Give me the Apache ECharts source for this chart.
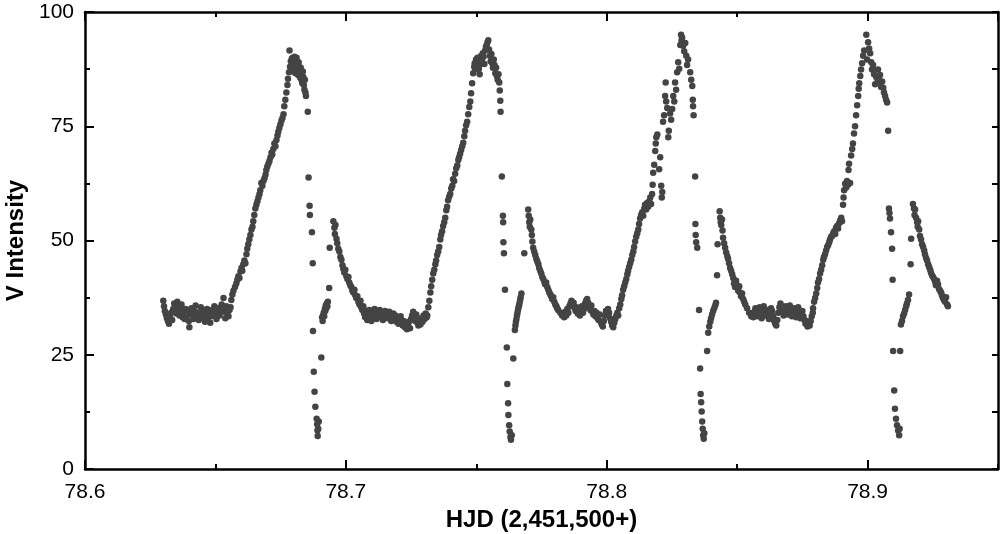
<!DOCTYPE html>
<html>
<head>
<meta charset="utf-8">
<script src="https://cdn.jsdelivr.net/npm/echarts@6/dist/echarts.min.js"></script>
<style>
  html, body { margin: 0; padding: 0; background: #fff; }
  #main { width: 1000px; height: 534px; }
</style>
</head>
<body>
<div id="main"></div>
<script>
// light curve points [HJD - 2,451,500, V intensity]
var cycle1 = [
    [78.6300,36.8],[78.6303,35.6],[78.6306,34.6],[78.6310,33.8],[78.6314,33.0],[78.6318,32.4],[78.6322,31.8],[78.6326,33.2],
    [78.6330,34.2],[78.6334,32.6],[78.6338,35.0],[78.6342,36.2],[78.6346,35.4],[78.6350,34.0],[78.6354,36.6],[78.6358,35.2],
    [78.6362,33.6],[78.6366,34.8],[78.6370,36.0],[78.6374,33.2],[78.6378,34.4],[78.6382,32.8],[78.6386,35.0],[78.6390,33.6],
    [78.6394,34.6],[78.6398,32.4],[78.6400,31.0],[78.6404,33.8],[78.6408,35.2],[78.6412,34.0],[78.6416,32.8],[78.6420,34.6],
    [78.6424,35.8],[78.6428,33.4],[78.6432,34.2],[78.6436,32.6],[78.6440,33.8],[78.6444,35.4],[78.6448,34.4],[78.6452,33.0],
    [78.6456,34.8],[78.6460,32.2],[78.6464,33.6],[78.6468,35.0],[78.6472,33.2],[78.6476,34.6],[78.6480,32.0],[78.6484,33.4],
    [78.6488,34.8],[78.6492,33.8],[78.6496,35.6],[78.6500,34.2],[78.6504,32.8],[78.6508,34.0],[78.6512,35.2],[78.6516,33.6],
    [78.6520,34.8],[78.6524,36.0],[78.6528,35.0],[78.6531,37.4],[78.6534,34.4],[78.6538,33.0],[78.6542,35.6],[78.6546,34.2],
    [78.6550,33.4],[78.6554,34.8],[78.6558,35.4],
    [78.6561,37.0],[78.6565,38.2],[78.6569,39.0],[78.6575,39.8],[78.6580,40.6],[78.6584,41.4],[78.6588,42.2],[78.6592,41.8],
    [78.6596,43.2],[78.6600,44.0],[78.6603,43.4],[78.6607,44.8],[78.6611,45.6],[78.6615,45.0],[78.6619,47.0],[78.6622,48.2],
    [78.6626,49.2],[78.6630,50.2],[78.6634,51.2],[78.6638,52.4],[78.6642,53.0],[78.6645,54.2],[78.6649,55.6],[78.6653,57.0],
    [78.6657,57.8],[78.6661,58.6],[78.6665,59.4],[78.6669,60.2],[78.6672,61.0],[78.6676,62.6],[78.6680,62.0],[78.6684,63.0],
    [78.6688,63.6],[78.6692,64.4],[78.6695,65.4],[78.6699,66.2],[78.6703,66.8],[78.6707,67.4],[78.6711,68.2],[78.6715,69.2],
    [78.6718,68.8],[78.6722,70.0],[78.6726,71.2],[78.6730,70.6],[78.6734,72.0],[78.6738,73.0],[78.6741,73.8],[78.6745,74.6],
    [78.6749,75.4],[78.6753,76.2],[78.6757,76.8],[78.6761,77.6],[78.6764,79.4],[78.6768,80.8],[78.6772,82.4],[78.6776,84.0],
    [78.6778,85.4],[78.6782,86.8],[78.6784,91.6],
    [78.6786,88.0],[78.6789,89.2],[78.6791,87.4],[78.6793,89.8],[78.6795,88.6],[78.6797,90.0],[78.6799,87.0],[78.6801,89.4],
    [78.6803,90.2],[78.6805,88.2],[78.6807,86.6],[78.6809,89.6],[78.6811,90.0],[78.6813,88.8],[78.6815,87.4],[78.6817,86.2],
    [78.6819,89.0],[78.6821,88.0],[78.6823,86.8],[78.6825,85.6],[78.6827,87.8],[78.6829,86.4],[78.6831,85.0],[78.6833,84.4],
    [78.6835,87.0],[78.6837,85.8],[78.6839,84.0],[78.6841,83.0],[78.6843,85.2],[78.6845,82.4],[78.6847,81.6],
    [78.6854,78.2],[78.6857,63.8],[78.6861,57.6],[78.6862,55.6],[78.6870,51.8],[78.6873,45.0],[78.6874,30.2],[78.6877,21.3],
    [78.6880,16.9],[78.6883,13.6],[78.6888,11.0],[78.6890,9.8],[78.6891,8.4],[78.6892,7.2],[78.6894,8.8],[78.6896,10.4],
    [78.6906,24.4],
    [78.6909,33.2],[78.6911,32.4],[78.6913,33.6],[78.6915,34.2],[78.6917,33.4],[78.6919,35.0],[78.6921,34.6],[78.6923,35.8],
    [78.6925,35.2],[78.6927,36.2],[78.6929,35.6],[78.6931,36.6],[78.6936,39.6],[78.6938,48.4],
    [78.6952,54.2],[78.6956,52.8],[78.6958,51.4],[78.6960,53.4],[78.6964,50.4],[78.6967,49.4],[78.6971,48.2],[78.6975,47.6],
    [78.6979,46.4],[78.6983,45.8],[78.6987,44.6],[78.6990,43.8],[78.6994,43.0],[78.6998,43.6],[78.7002,42.2],[78.7006,41.6],
    [78.7010,42.0],[78.7013,40.8],[78.7017,40.2],[78.7021,39.8],[78.7025,39.0],[78.7029,38.6],[78.7033,39.2],[78.7036,38.0],
    [78.7040,37.4],[78.7044,37.8],[78.7048,36.6],[78.7052,36.0],[78.7056,36.8],[78.7059,35.4],[78.7063,34.8],[78.7067,35.6]
];

var cycle2 = [
    [78.7070,34.0],[78.7074,33.2],[78.7078,34.6],[78.7082,32.6],[78.7086,33.8],[78.7090,34.8],[78.7094,33.0],[78.7098,32.4],
    [78.7102,34.2],[78.7106,33.4],[78.7110,35.0],[78.7114,33.8],[78.7118,32.8],[78.7122,34.4],[78.7126,33.6],[78.7130,34.8],
    [78.7134,33.2],[78.7138,34.0],[78.7142,32.6],[78.7146,33.8],[78.7150,34.6],[78.7154,33.4],[78.7158,34.2],[78.7162,33.0],
    [78.7166,34.4],[78.7170,33.6],[78.7174,32.4],[78.7178,33.2],[78.7182,34.0],[78.7186,32.8],[78.7190,33.6],[78.7194,32.2],
    [78.7198,33.0],[78.7202,31.8],[78.7206,32.6],[78.7210,33.4],[78.7214,32.0],[78.7218,31.4],[78.7222,32.4],[78.7226,31.0],
    [78.7230,31.8],[78.7234,30.6],[78.7238,31.4],[78.7242,32.2],[78.7246,30.8],[78.7250,32.8],[78.7254,33.6],[78.7258,34.4],
    [78.7262,33.2],[78.7266,32.4],[78.7270,33.8],[78.7274,32.0],[78.7278,31.4],[78.7282,32.6],[78.7286,31.6],[78.7290,33.0],
    [78.7294,32.2],[78.7298,33.6],[78.7302,32.8],[78.7306,34.0],[78.7310,33.2],
    [78.7312,33.6],[78.7316,35.4],[78.7320,36.8],[78.7324,38.6],[78.7327,40.0],[78.7331,41.4],[78.7335,42.8],[78.7339,43.6],
    [78.7343,44.8],[78.7346,45.6],[78.7350,46.8],[78.7354,47.6],[78.7358,48.6],[78.7362,50.2],[78.7365,51.2],[78.7369,52.0],
    [78.7373,53.2],[78.7377,54.0],[78.7381,55.0],[78.7385,56.6],[78.7388,57.4],[78.7392,58.8],[78.7396,59.6],[78.7400,60.2],
    [78.7404,61.4],[78.7408,62.0],[78.7411,63.4],[78.7415,63.0],[78.7419,64.6],[78.7423,65.8],[78.7427,66.4],[78.7431,67.6],
    [78.7434,68.2],[78.7438,69.0],[78.7442,69.8],[78.7446,70.6],[78.7450,71.4],[78.7454,72.8],[78.7457,74.0],[78.7461,75.2],
    [78.7465,76.0],[78.7469,77.6],[78.7473,79.2],[78.7477,80.4],[78.7480,82.2],[78.7484,84.4],[78.7488,86.6],[78.7492,88.0],
    [78.7494,88.8],[78.7496,87.4],[78.7499,89.6],[78.7502,88.2],[78.7505,90.0],[78.7508,89.0],[78.7510,87.6],[78.7513,86.4],
    [78.7516,88.6],[78.7519,90.4],[78.7522,89.2],[78.7525,91.0],[78.7528,90.2],[78.7531,88.6],[78.7534,91.6],[78.7537,92.4],
    [78.7540,92.8],[78.7543,93.4],[78.7546,93.8],[78.7549,91.8],[78.7552,90.4],[78.7555,89.2],[78.7558,90.8],[78.7561,88.8],
    [78.7564,87.8],[78.7567,89.6],[78.7570,88.4],[78.7573,86.6],[78.7576,87.8],[78.7579,86.0],[78.7582,85.2],[78.7585,86.4],
    [78.7588,84.6],[78.7590,82.8],[78.7592,80.6],[78.7593,78.2],
    [78.7598,64.0],[78.7602,55.4],[78.7603,54.0],[78.7604,49.6],[78.7606,47.2],[78.7610,39.2],[78.7617,26.6],[78.7619,18.6],
    [78.7622,14.4],[78.7623,11.8],[78.7626,9.6],[78.7628,8.2],[78.7631,7.0],[78.7633,6.4],[78.7636,7.4],[78.7642,24.2],
    [78.7648,30.4],[78.7650,31.4],[78.7652,32.2],[78.7654,32.8],[78.7656,33.6],[78.7658,34.2],[78.7660,34.8],[78.7662,35.4],
    [78.7664,35.8],[78.7666,36.4],[78.7668,37.0],[78.7670,37.6],[78.7673,38.4],[78.7684,47.2],
    [78.7699,56.8],[78.7701,55.4],[78.7703,54.0],[78.7705,53.0],[78.7707,54.6],[78.7711,52.4],[78.7713,51.2],[78.7715,49.8],
    [78.7718,48.4],[78.7722,47.6],[78.7726,46.8],[78.7730,46.0],[78.7734,45.4],[78.7738,44.8],[78.7741,44.0],[78.7745,43.4],
    [78.7749,42.8],[78.7753,42.0],[78.7757,41.6],[78.7761,41.0],[78.7764,40.4],[78.7768,40.8],[78.7772,39.8],[78.7776,39.2],
    [78.7780,38.6],[78.7784,38.2],[78.7787,37.8],[78.7791,37.2],[78.7795,37.6],[78.7799,36.6],[78.7803,36.0],[78.7807,35.6],
    [78.7810,35.2],[78.7814,34.8],[78.7822,34.2],[78.7829,33.6]
];

var cycle3 = [
    [78.7833,34.0],[78.7837,33.2],[78.7841,34.4],[78.7845,33.6],[78.7849,35.0],[78.7853,34.2],[78.7857,35.6],[78.7861,36.2],
    [78.7865,36.8],[78.7869,35.8],[78.7873,36.4],[78.7877,35.2],[78.7881,34.6],[78.7885,35.4],[78.7889,34.0],[78.7893,34.8],
    [78.7897,33.6],[78.7901,34.4],[78.7905,35.6],[78.7909,34.2],[78.7913,35.0],[78.7917,36.2],[78.7921,36.8],[78.7925,37.2],
    [78.7929,36.4],[78.7933,35.6],[78.7937,34.8],[78.7941,35.8],[78.7945,34.4],[78.7949,33.8],[78.7953,34.6],[78.7957,33.4],
    [78.7961,34.2],[78.7965,33.0],[78.7969,32.6],[78.7973,33.8],[78.7977,32.2],[78.7981,31.6],[78.7985,31.2],[78.7989,32.4],
    [78.7993,33.6],[78.7997,34.6],[78.8001,33.8],[78.8005,35.0],[78.8009,34.2],[78.8013,33.0],[78.8017,32.2],[78.8021,31.4],
    [78.8025,31.0],[78.8029,32.0],[78.8033,32.8],[78.8037,33.6],[78.8041,34.2],
    [78.8044,33.6],[78.8048,35.2],[78.8052,36.0],[78.8056,37.2],[78.8059,38.0],[78.8063,39.2],[78.8067,40.0],[78.8071,40.8],
    [78.8075,41.6],[78.8079,42.6],[78.8082,43.4],[78.8086,44.2],[78.8090,45.0],[78.8094,45.8],[78.8098,46.8],[78.8102,47.6],
    [78.8105,48.6],[78.8109,49.8],[78.8113,50.8],[78.8117,51.6],[78.8121,52.4],[78.8124,53.6],[78.8128,54.8],[78.8132,55.6],
    [78.8136,56.2],[78.8140,55.4],[78.8144,57.0],[78.8147,57.8],[78.8151,56.8],[78.8155,58.2],[78.8159,57.4],[78.8163,58.6],
    [78.8167,59.4],[78.8170,58.0],[78.8174,60.2],[78.8176,62.2],[78.8178,64.8],[78.8182,66.6],[78.8186,69.6],[78.8188,71.2],
    [78.8190,72.6],[78.8194,73.2],[78.8201,65.6],[78.8205,68.2],[78.8209,62.0],[78.8211,59.4],[78.8213,60.6],[78.8216,76.0],
    [78.8220,77.4],[78.8224,81.6],[78.8226,84.6],
    [78.8228,80.4],[78.8232,79.0],[78.8236,72.6],[78.8238,74.0],[78.8243,77.8],[78.8247,76.4],[78.8251,78.8],[78.8255,81.6],
    [78.8259,80.4],[78.8262,84.6],[78.8266,83.0],[78.8270,86.8],[78.8274,89.0],[78.8278,87.6],[78.8282,92.8],[78.8285,95.0],
    [78.8287,93.8],[78.8289,94.4],[78.8293,92.6],[78.8297,91.4],[78.8301,93.2],[78.8305,90.4],[78.8308,88.4],[78.8312,89.6],
    [78.8320,86.8],[78.8324,85.2],[78.8328,83.8],[78.8330,80.8],[78.8331,79.4],[78.8333,77.4],
    [78.8339,64.0],[78.8340,53.6],[78.8341,51.2],[78.8343,49.6],[78.8347,48.4],[78.8354,34.8],[78.8358,22.0],[78.8360,16.4],
    [78.8362,14.6],[78.8364,12.6],[78.8366,10.4],[78.8368,8.8],[78.8370,7.4],[78.8372,6.6],[78.8374,7.8],
    [78.8385,25.8],[78.8389,29.8],[78.8393,31.2],[78.8397,32.2],[78.8400,33.0],[78.8404,33.8],[78.8408,34.6],[78.8412,35.2],
    [78.8416,35.8],[78.8419,36.4],[78.8423,42.4],[78.8425,49.2],
    [78.8433,56.4],[78.8435,55.0],[78.8437,54.0],[78.8439,53.4],[78.8442,54.6],[78.8444,52.2],[78.8446,50.6],[78.8450,49.4],
    [78.8454,48.4],[78.8458,47.4],[78.8462,46.6],[78.8465,46.0],[78.8469,45.0],[78.8473,44.0],[78.8477,43.4],[78.8481,42.6],
    [78.8485,41.8],[78.8488,40.6],[78.8492,39.8],[78.8496,41.2],[78.8500,40.2],[78.8504,39.0],[78.8508,40.0],[78.8511,38.6],
    [78.8515,37.8],[78.8519,38.4],[78.8523,37.2],[78.8527,36.6],[78.8531,36.0],[78.8538,35.2],[78.8546,34.2],[78.8554,33.4]
];

var cycle4 = [
    [78.8558,34.0],[78.8562,33.2],[78.8566,34.4],[78.8570,35.2],[78.8574,34.0],[78.8578,33.4],[78.8582,34.8],[78.8586,35.4],
    [78.8590,34.2],[78.8594,33.0],[78.8598,34.6],[78.8602,35.6],[78.8606,34.4],[78.8610,33.6],[78.8614,34.8],[78.8618,33.8],
    [78.8622,32.8],[78.8626,34.0],[78.8630,35.2],[78.8634,34.6],[78.8638,33.4],[78.8642,32.4],[78.8646,31.8],[78.8650,31.4],
    [78.8654,32.6],[78.8658,34.2],[78.8662,35.4],[78.8666,36.2],[78.8670,35.6],[78.8674,34.4],[78.8678,33.6],[78.8682,34.8],
    [78.8686,35.6],[78.8690,34.6],[78.8694,33.8],[78.8698,35.0],[78.8702,35.8],[78.8706,34.6],[78.8710,33.4],[78.8714,34.2],
    [78.8718,35.2],[78.8722,34.0],[78.8726,33.2],[78.8730,34.6],[78.8734,35.4],[78.8738,34.2],[78.8742,33.0],[78.8746,33.8],
    [78.8750,34.6],[78.8754,33.4],[78.8758,32.6],[78.8762,31.8],[78.8766,32.4],[78.8770,31.2],[78.8774,32.0],[78.8778,31.4],
    [78.8782,32.4],[78.8786,33.4],[78.8790,34.2],
    [78.8791,35.2],[78.8795,36.6],[78.8799,37.4],[78.8803,38.4],[78.8807,39.6],[78.8810,40.8],[78.8814,41.6],[78.8818,42.8],
    [78.8822,43.6],[78.8826,44.6],[78.8830,45.8],[78.8833,46.4],[78.8837,47.0],[78.8841,47.8],[78.8845,48.6],[78.8849,49.0],
    [78.8853,49.6],[78.8856,50.2],[78.8860,50.8],[78.8864,51.0],[78.8868,51.6],[78.8872,52.0],[78.8876,51.4],[78.8879,52.8],
    [78.8883,53.2],[78.8887,52.6],[78.8891,53.8],[78.8895,54.4],[78.8899,55.0],[78.8902,54.2],[78.8906,57.8],[78.8908,59.4],
    [78.8910,61.0],[78.8914,62.4],[78.8918,61.6],[78.8921,63.0],[78.8925,62.2],[78.8927,65.4],[78.8929,66.8],[78.8933,62.6],
    [78.8937,68.6],[78.8941,70.0],[78.8944,71.2],[78.8948,73.4],[78.8952,75.0],[78.8956,77.4],[78.8960,79.6],[78.8964,81.6],
    [78.8966,83.2],[78.8968,84.4],[78.8972,86.0],[78.8975,87.4],[78.8979,88.8],[78.8983,90.4],[78.8987,91.6],[78.8995,95.0],
    [78.8998,89.6],[78.9002,93.4],[78.9006,92.0],[78.9010,91.0],[78.9014,89.0],[78.9017,87.4],[78.9021,88.4],[78.9025,86.4],
    [78.9029,84.2],[78.9033,85.8],[78.9037,84.6],[78.9040,87.4],[78.9044,85.2],[78.9048,86.2],[78.9052,83.6],[78.9056,84.8],
    [78.9060,83.4],[78.9063,82.4],[78.9067,81.6],[78.9071,80.8],[78.9075,80.2],[78.9079,74.0],
    [78.9082,57.0],[78.9084,56.0],[78.9086,54.8],[78.9090,51.8],[78.9094,48.2],[78.9096,41.4],[78.9098,25.8],[78.9102,17.2],
    [78.9105,13.2],[78.9109,11.0],[78.9113,9.6],[78.9117,8.4],[78.9121,7.4],[78.9123,8.8],[78.9125,25.8],
    [78.9128,31.6],[78.9132,32.4],[78.9136,33.4],[78.9140,34.0],[78.9144,34.8],[78.9148,35.6],[78.9151,36.2],[78.9155,37.0],
    [78.9159,38.2],[78.9165,44.8],[78.9167,50.4],
    [78.9174,58.0],[78.9178,57.0],[78.9180,55.6],[78.9182,56.8],[78.9186,55.0],[78.9190,54.0],[78.9192,53.0],[78.9194,54.2],
    [78.9198,52.4],[78.9201,51.0],[78.9205,50.2],[78.9209,49.2],[78.9213,48.6],[78.9217,47.8],[78.9220,47.0],[78.9224,46.2],
    [78.9228,45.6],[78.9232,44.8],[78.9236,44.2],[78.9240,43.6],[78.9243,43.0],[78.9247,42.4],[78.9251,42.0],[78.9255,41.6],
    [78.9259,41.0],[78.9262,40.2],[78.9266,41.2],[78.9270,40.4],[78.9274,39.4],[78.9278,39.0],[78.9282,38.6],[78.9285,38.0],
    [78.9289,37.4],[78.9293,37.0],[78.9297,36.6],[78.9301,37.6],[78.9305,36.0],[78.9308,35.6]
];

var xRange = [78.6, 78.95];
var yRange = [0, 100];

var points = cycle1.concat(cycle2, cycle3, cycle4);

var fontFam = '"Liberation Sans", Arial, sans-serif';
var black = '#000';

// withLabels: true = line+labels, false = line only, null = ticks only
function hAxis(pos, step, tickLen, withLabels) {
    return {
        type: 'value',
        position: pos,
        min: xRange[0],
        max: xRange[1],
        interval: step,
        axisLine: { show: withLabels !== null, onZero: false, lineStyle: { color: black, width: 2.5 } },
        axisTick: { inside: true, length: tickLen, lineStyle: { color: black, width: 2 } },
        axisLabel: withLabels ? {
            show: true, showMaxLabel: false, margin: 13,
            fontSize: 21, color: black, fontFamily: fontFam,
            formatter: function (v) { return v.toFixed(1); }
        } : { show: false },
        splitLine: { show: false }
    };
}

function vAxis(pos, step, tickLen, withLabels) {
    return {
        type: 'value',
        position: pos,
        min: yRange[0],
        max: yRange[1],
        interval: step,
        axisLine: { show: withLabels !== null, onZero: false, lineStyle: { color: black, width: 2.5 } },
        axisTick: { inside: true, length: tickLen, lineStyle: { color: black, width: 2 } },
        axisLabel: withLabels ? {
            show: true, margin: 11,
            fontSize: 21, color: black, fontFamily: fontFam
        } : { show: false },
        splitLine: { show: false }
    };
}

var xMain = hAxis('bottom', 0.1, 9, true);
xMain.name = 'HJD (2,451,500+)';
xMain.nameLocation = 'middle';
xMain.nameGap = 38;
xMain.nameTextStyle = { fontSize: 24, fontWeight: 'bold', color: black, fontFamily: fontFam };

var yMain = vAxis('left', 25, 9, true);
yMain.name = 'V Intensity';
yMain.nameLocation = 'middle';
yMain.nameGap = 55;
yMain.nameTextStyle = { fontSize: 24, fontWeight: 'bold', color: black, fontFamily: fontFam };

var myChart = echarts.init(document.getElementById('main'), null, { renderer: 'canvas' });
myChart.setOption({
    backgroundColor: '#fff',
    animation: false,
    grid: { left: 85, right: 2, top: 12, bottom: 65, containLabel: false, outerBoundsMode: 'none' },
    xAxis: [
        xMain,
        hAxis('bottom', 0.05, 5, null),
        hAxis('top', 0.1, 9, false),
        hAxis('top', 0.05, 5, null)
    ],
    yAxis: [
        yMain,
        vAxis('left', 12.5, 5, null),
        vAxis('right', 12.5, 6, false)
    ],
    series: [
        {
            type: 'scatter',
            xAxisIndex: 0,
            yAxisIndex: 0,
            data: points,
            symbol: 'circle',
            symbolSize: 6.5,
            itemStyle: { color: '#444444', opacity: 1 },
            emphasis: { disabled: true },
            silent: true
        }
    ]
});
</script>
</body>
</html>
